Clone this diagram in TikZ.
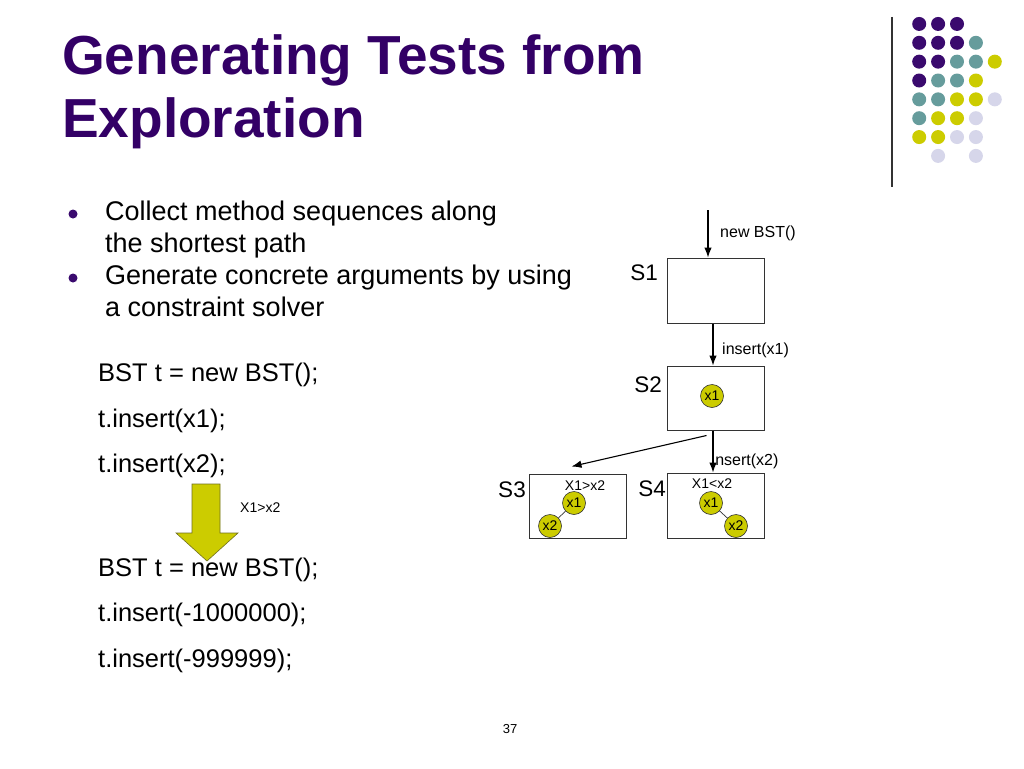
\documentclass[tikz,border=0pt]{standalone}
\usepackage{fontspec}
\setmainfont{Liberation Sans}
\usetikzlibrary{arrows.meta,calc}
\definecolor{ttl}{HTML}{330066}
\definecolor{dp}{HTML}{3A0A6E}
\definecolor{dt}{HTML}{669C9C}
\definecolor{dy}{HTML}{CCCC00}
\definecolor{dl}{HTML}{D6D6EA}
\definecolor{bd}{HTML}{333333}
\tikzset{
  title/.style={anchor=base west,inner sep=0,text=ttl,font=\fontsize{55}{60}\selectfont\bfseries},
  btxt/.style={anchor=base west,inner sep=0,font=\fontsize{27}{30}\selectfont},
  code/.style={anchor=base west,inner sep=0,font=\fontsize{25.5}{28}\selectfont},
  small/.style={inner sep=0,font=\fontsize{16}{18}\selectfont},
  tiny/.style={inner sep=0,font=\fontsize{14}{16}\selectfont},
  slabel/.style={inner sep=0,font=\fontsize{22.5}{24}\selectfont},
  statebox/.style={draw=bd,line width=1pt,minimum width=97pt,minimum height=65pt,inner sep=0},
  tnode/.style={circle,draw=bd,line width=0.6pt,fill=dy,minimum size=23pt,inner sep=0,font=\fontsize{14}{16}\selectfont},
  arr/.style={draw=black,line width=1.1pt,-{Latex[length=10pt,width=7.5pt]}},
  tedge/.style={draw=bd,line width=0.7pt},
  dot/.style={circle,minimum size=14pt,inner sep=0}
}
\begin{document}
\begin{tikzpicture}[x=1pt,y=-1pt]
\useasboundingbox (0,0) rectangle (1024,768);
\fill[white] (0,0) rectangle (1024,768);
% title
\node[title] (t1) at (62,74.5) {Generating Tests from};
\node[title] (t2) at (62,137) {Exploration};
% decoration
\draw[line width=1.2pt,draw=bd] (892,17) -- (892,187);
\foreach \c/\x/\y in {dp/1/1,dp/2/1,dp/3/1,
  dp/1/2,dp/2/2,dp/3/2,dt/4/2,
  dp/1/3,dp/2/3,dt/3/3,dt/4/3,dy/5/3,
  dp/1/4,dt/2/4,dt/3/4,dy/4/4,
  dt/1/5,dt/2/5,dy/3/5,dy/4/5,dl/5/5,
  dt/1/6,dy/2/6,dy/3/6,dl/4/6,
  dy/1/7,dy/2/7,dl/3/7,dl/4/7,
  dl/2/8,dl/4/8}{
  \node[dot,fill=\c] (d\x\y) at ({900.3+18.9*\x},{5.1+18.85*\y}) {};
}
% bullets
\node[circle,fill=dp,minimum size=9pt,inner sep=0] (b1) at (73,214) {};
\node[circle,fill=dp,minimum size=9pt,inner sep=0] (b2) at (73,278) {};
\node[btxt] (l1) at (105,220.7) {Collect method sequences along};
\node[btxt] (l2) at (105,252) {the shortest path};
\node[btxt] (l3) at (105,284) {Generate concrete arguments by using};
\node[btxt] (l4) at (105,316) {a constraint solver};
% code
\node[code] (c1) at (98,381.7) {BST t = new BST();};
\node[code] (c2) at (98,427) {t.insert(x1);};
\node[code] (c3) at (98,472.7) {t.insert(x2);};
\node[code] (c4) at (98,576) {BST t = new BST();};
\node[code] (c5) at (98,621.7) {t.insert(-1000000);};
\node[code] (c6) at (98,667.7) {t.insert(-999999);};
% block arrow
\filldraw[fill=dy,draw=bd!60!dy,line width=0.6pt] (192,484) -- (220,484) -- (220,533) -- (238,533) -- (207,561) -- (176,533) -- (192,533) -- cycle;
\node[tiny,anchor=west] (cond) at (240,508) {X1>x2};
% state boxes
\node[statebox] (S1) at (715.5,290.5) {};
\node[statebox,minimum height=64pt] (S2) at (715.5,398) {};
\node[statebox,minimum height=64pt] (S3) at (577.5,506) {};
\node[statebox] (S4) at (715.5,505.5) {};
\node[slabel] (L1) at (644,273) {S1};
\node[slabel] (L2) at (648,385) {S2};
\node[slabel] (L3) at (512,490) {S3};
\node[slabel] (L4) at (652,488.5) {S4};
% transitions
\coordinate (start) at (708,210);
\draw[arr] (start) -- (start |- S1.north);
\node[small,anchor=west] (n1) at (720,233.5) {new BST()};
\draw[arr] ([xshift=-2.5pt]S1.south) -- ([xshift=-2.5pt]S2.north);
\node[small,anchor=west] (n2) at (722,350) {insert(x1)};
\draw[arr] ([xshift=-2.5pt]S2.south) -- ([xshift=-2.5pt]S4.north);
\node[small,anchor=west] (n3) at (711.5,461) {insert(x2)};
\draw[arr] ([xshift=-9pt,yshift=-5pt]S2.south) -- ([xshift=-6pt,yshift=7pt]S3.north);
% trees
\node[tnode] (a1) at (712,396) {x1};
\node[tiny] (k3) at (585,485.5) {X1>x2};
\node[tnode] (b31) at (574,503) {x1};
\node[tnode] (b32) at (550,526) {x2};
\draw[tedge] (b31) -- (b32);
\node[tiny] (k4) at (712,484) {X1<x2};
\node[tnode] (b41) at (711,503) {x1};
\node[tnode] (b42) at (736,526) {x2};
\draw[tedge] (b41) -- (b42);
% page number
\node[inner sep=0,font=\fontsize{13}{14}\selectfont] (pg) at (510,729) {37};
\end{tikzpicture}
\end{document}
